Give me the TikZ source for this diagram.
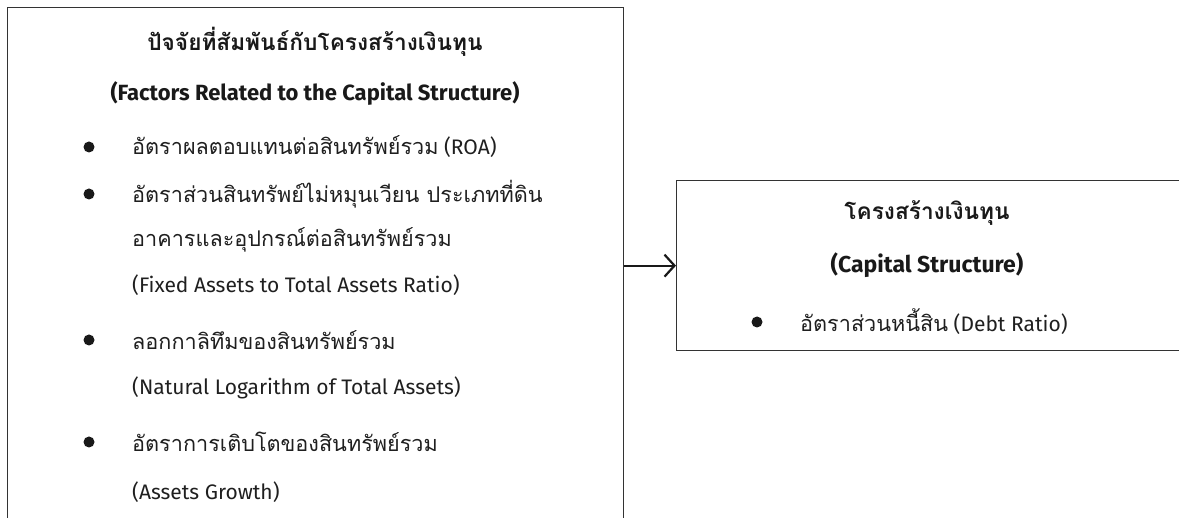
\documentclass[tikz,border=0pt]{standalone}
\usepackage{fontspec}
\setmainfont{Fira Sans}
\newfontfamily\thai[Script=Thai,Scale=1.03]{Loma}
\usetikzlibrary{arrows.meta}
\begin{document}
\begin{tikzpicture}[x=1pt,y=-1pt,
  box/.style={draw=black!80, line width=1.3pt},
  txt/.style={anchor=west, inner sep=0pt, font=\fontsize{21}{25}\selectfont, text=black!88},
  ttl/.style={anchor=center, inner sep=0pt, font=\fontsize{22}{26}\selectfont\bfseries, text=black!90},
  dot/.style={circle, fill=black!90, inner sep=0pt, minimum size=11pt},
  arr/.style={-{Straight Barb[length=10pt,width=22pt,line width=2.2pt]}, line width=2pt, black!90}]
\useasboundingbox (0,0) rectangle (1179,518);
\clip (0,0) rectangle (1179,518);
% boxes
\node[box, minimum width=616, minimum height=560, anchor=north west] (lbox) at (7,7) {};
\node[box, minimum width=530, minimum height=170, anchor=north west] (rbox) at (676,180) {};
\draw[arr] (rbox.west -| lbox.east) -- (rbox.west);
% left box texts
\node[ttl] (lt1) at (315,42) {\thai ปัจจัยที่สัมพันธ์กับโครงสร้างเงินทุน};
\node[ttl] (lt2) at (315,93) {(Factors Related to the Capital Structure)};
\node[dot] (d1) at (89,147) {};
\node[txt] (l1) at (132,147) {{\thai อัตราผลตอบแทนต่อสินทรัพย์รวม} (ROA)};
\node[dot] (d2) at (89,194) {};
\node[txt] (l2) at (132,194) {\thai อัตราส่วนสินทรัพย์ไม่หมุนเวียน ประเภทที่ดิน};
\node[txt] (l3) at (132,240) {\thai อาคารและอุปกรณ์ต่อสินทรัพย์รวม};
\node[txt] (l4) at (132,285) {(Fixed Assets to Total Assets Ratio)};
\node[dot] (d3) at (89,340) {};
\node[txt] (l5) at (132,340) {\thai ลอกกาลิทึมของสินทรัพย์รวม};
\node[txt] (l6) at (132,388) {(Natural Logarithm of Total Assets)};
\node[dot] (d4) at (89,442) {};
\node[txt] (l7) at (132,442) {\thai อัตราการเติบโตของสินทรัพย์รวม};
\node[txt] (l8) at (132,492) {(Assets Growth)};
% right box texts
\node[ttl] (rt1) at (927,213) {\thai โครงสร้างเงินทุน};
\node[ttl, font=\fontsize{23}{27}\selectfont\bfseries] (rt2) at (927,265) {(Capital Structure)};
\node[dot] (d5) at (757,322) {};
\node[txt] (r1) at (800,322) {{\thai อัตราส่วนหนี้สิน} (Debt Ratio)};
\end{tikzpicture}
\end{document}
